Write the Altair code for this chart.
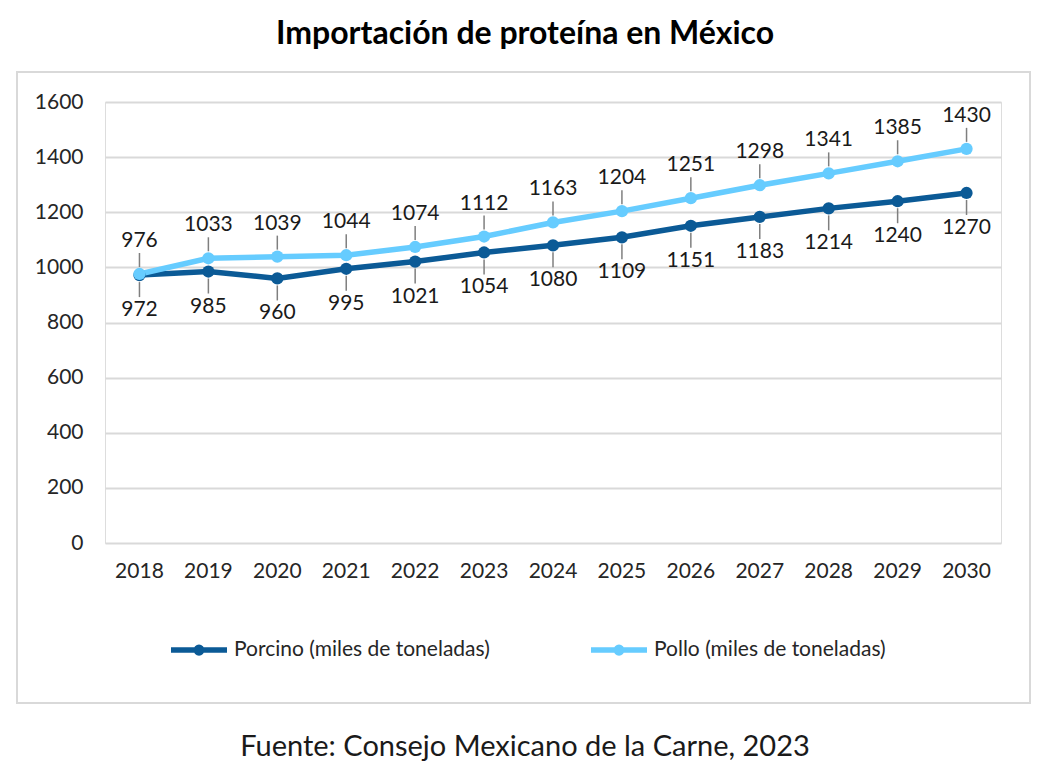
import altair as alt
import pandas as pd

years = [str(y) for y in range(2018, 2031)]
porcino = [972, 985, 960, 995, 1021, 1054, 1080, 1109, 1151, 1183, 1214, 1240, 1270]
pollo = [976, 1033, 1039, 1044, 1074, 1112, 1163, 1204, 1251, 1298, 1341, 1385, 1430]
series = ["Porcino (miles de toneladas)", "Pollo (miles de toneladas)"]
colors = ["#0b5a96", "#66ccff"]

rows = []
for i, y in enumerate(years):
    rows.append({"year": y, "serie": series[0], "v": porcino[i]})
    rows.append({"year": y, "serie": series[1], "v": pollo[i]})
df = pd.DataFrame(rows)

FONT = "Lato"
W, H = 896, 441

x = alt.X("year:O", title=None, sort=years,
          axis=alt.Axis(labelAngle=0, labelFontSize=21, labelColor="#262626", labelPadding=17,
                        ticks=False, domain=False, labelFont=FONT))
y = alt.Y("v:Q", title=None, scale=alt.Scale(domain=[0, 1600], nice=False),
          axis=alt.Axis(values=list(range(0, 1601, 200)), format="d", labelFontSize=21,
                        labelColor="#262626", labelPadding=22, ticks=False, domain=False,
                        gridColor="#d9d9d9", gridWidth=2, labelFont=FONT))

legend = alt.Legend(title=None, orient="none", legendX=63, legendY=517,
                    direction="horizontal",
                    symbolType="M-1,0H1M-0.1,0A0.1,0.1,0,1,1,0.1,0A0.1,0.1,0,1,1,-0.1,0",
                    symbolSize=3136, symbolStrokeWidth=5.5, labelFontSize=21,
                    labelFont=FONT, labelColor="#262626", labelOffset=4,
                    columnPadding=90, labelLimit=400)
color = alt.Color("serie:N", scale=alt.Scale(domain=series, range=colors), legend=legend)

base = alt.Chart(df)

border = alt.Chart(pd.DataFrame({"a": [0]})).mark_rect(fillOpacity=0, stroke="#d9d9d9", strokeWidth=2).encode(
    x=alt.value(-88), x2=alt.value(925), y=alt.value(-30), y2=alt.value(601))

lines = base.mark_line(strokeWidth=5.5).encode(x=x, y=y, color=color, detail="serie:N")
points = base.mark_point(filled=True, size=150, opacity=1).encode(x=x, y=y, color=color)

pollo_df = df[df.serie == series[1]]
porc_df = df[df.serie == series[0]]

lead_pollo = alt.Chart(pollo_df).mark_rule(color="#7f7f7f", strokeWidth=1.5, yOffset=-7, y2Offset=-21).encode(
    x=x, y=y, y2="v:Q")
lead_porc = alt.Chart(porc_df).mark_rule(color="#7f7f7f", strokeWidth=1.5, yOffset=7, y2Offset=22).encode(
    x=x, y=y, y2="v:Q")

lab_pollo = alt.Chart(pollo_df).mark_text(font=FONT, fontSize=21, color="#1a1a1a", dy=-33).encode(
    x=x, y=y, text="v:Q")
lab_porc = alt.Chart(porc_df).mark_text(font=FONT, fontSize=21, color="#1a1a1a", dy=35).encode(
    x=x, y=y, text="v:Q")

source = alt.Chart(pd.DataFrame({"a": [0]})).mark_text(font=FONT, fontSize=29, color="#1a1a1a").encode(
    x=alt.value(420), y=alt.value(645), text=alt.value("Fuente: Consejo Mexicano de la Carne, 2023"))

chart = alt.layer(border, lines, lead_pollo, lead_porc, points, lab_pollo, lab_porc, source).properties(
    width=W, height=H,
    title=alt.TitleParams("Importación de proteína en México", font=FONT, fontSize=32, fontWeight="bold",
                          color="#000000", anchor="middle", offset=20, dx=-28),
    padding={"left": 97, "top": 94, "right": 40, "bottom": 224},
    autosize=alt.AutoSizeParams(type="none"),
).configure_view(stroke=None).configure(background="white")

chart.save("out.html", embed_options={"renderer": "svg", "actions": False})
